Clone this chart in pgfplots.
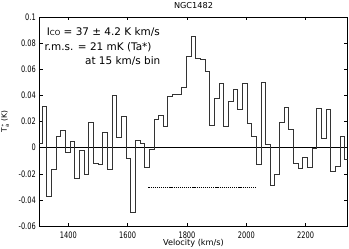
\documentclass[border=0pt]{standalone}
\usepackage{fontspec}
\setmainfont{DejaVu Sans}
\newfontfamily\tickfont{DejaVu Sans}[FakeStretch=0.74]
\usepackage{pgfplots}
\pgfplotsset{compat=1.18}

\begin{document}
\begin{tikzpicture}
\begin{axis}[
  name=ax,
  scale only axis,
  width=308.4bp, height=209bp,
  xmin=1302, xmax=2342,
  ymin=-0.06, ymax=0.1,
  xtick={1400,1600,1800,2000,2200},
  xticklabels={1400,1600,1800,2000,2200},
  ytick={-0.06,-0.04,-0.02,0,0.02,0.04,0.06,0.08,0.1},
  yticklabels={-0.06,-0.04,-0.02,0,0.02,0.04,0.06,0.08,0.1},
  scaled y ticks=false,
  tick align=inside,
  major tick length=3.3bp,
  tick style={black, line width=0.5pt},
  axis line style={black, line width=0.7pt},
  ticklabel style={font=\tickfont\fontsize{9}{9}\selectfont},
  xticklabel style={anchor=base, yshift=-12.3bp},
  yticklabel style={anchor=east, inner sep=0pt, xshift=-3.3bp},
  xlabel={Velocity (km/s)},
  xlabel style={font=\fontsize{8.2}{8.2}\selectfont, at={(axis description cs:0.5,-0.0933)}, anchor=base},
  ylabel={T$_{\mathrm{a}}^{*}$ (K)},
  ylabel style={font=\fontsize{7.5}{7.5}\selectfont, at={(axis description cs:-0.1112,0.5)}, anchor=center},
  title={NGC1482},
  title style={font=\fontsize{8.2}{8.2}\selectfont, at={(axis description cs:0.5,1.0119)}, anchor=base},
]
% zero line
\addplot[black, line width=0.4pt] coordinates {(1302,0) (2342,0)};
% dashed line
\addplot[black, line width=0.4pt, dash pattern=on 1.2pt off 0.9pt] coordinates {(1670,-0.03) (2032,-0.03)};
% spectrum
\addplot[const plot, black!80, line width=0.5pt] coordinates {
(1295.71,0.003)
(1311.40,0.0317)
(1327.09,-0.0373)
(1342.78,-0.0163)
(1358.47,0.0084)
(1374.16,0.013)
(1389.85,-0.0036)
(1405.54,0.0049)
(1421.23,-0.0238)
(1436.92,-0.002)
(1452.61,-0.0204)
(1468.30,0.0194)
(1483.99,-0.0117)
(1499.68,-0.013)
(1515.37,0.0117)
(1531.06,-0.0169)
(1546.75,0.040)
(1562.44,0.0077)
(1578.13,0.024)
(1593.82,-0.0082)
(1609.51,-0.0498)
(1625.20,0.0056)
(1640.89,0.003)
(1656.58,-0.0153)
(1672.27,-0.001)
(1687.96,0.0215)
(1703.65,0.0245)
(1719.34,0.0164)
(1735.03,0.0393)
(1750.72,0.0406)
(1766.41,0.0406)
(1782.10,0.0465)
(1797.79,0.070)
(1813.48,0.0853)
(1829.17,0.0687)
(1844.86,0.068)
(1860.55,0.0584)
(1876.24,0.017)
(1891.93,0.0375)
(1907.62,0.049)
(1923.31,0.0166)
(1939.00,0.0355)
(1954.69,0.045)
(1970.38,0.029)
(1986.07,0.0496)
(2001.76,0.019)
(2017.45,0.0087)
(2033.14,-0.013)
(2048.83,0.050)
(2064.52,0.0026)
(2080.21,-0.0289)
(2095.90,-0.0204)
(2111.59,0.0192)
(2127.28,0.0307)
(2142.97,0.0138)
(2158.66,-0.0123)
(2174.35,-0.0161)
(2190.04,-0.0077)
(2205.73,-0.0153)
(2221.42,-0.0008)
(2237.11,0.0305)
(2252.80,0.0074)
(2268.49,0.029)
(2284.18,-0.0179)
(2299.87,-0.0143)
(2315.56,0.0087)
(2331.25,-0.0092)
(2346.94,-0.0092)
};
\node[anchor=base west, inner sep=0pt, font=\fontsize{10.5}{10.5}\selectfont] at (axis cs:1327,0.086) {I{\fontsize{7}{7}\selectfont CO} = 37 ± 4.2 K km/s};
\node[anchor=base west, inner sep=0pt, font=\fontsize{10.5}{10.5}\selectfont] at (axis cs:1319,0.0745) {r.m.s. = 21 mK (Ta*)};
\node[anchor=base west, inner sep=0pt, font=\fontsize{10.5}{10.5}\selectfont] at (axis cs:1456,0.0638) {at 15 km/s bin};
\end{axis}
\pgfresetboundingbox
\path ([shift={(-39.3bp,-23bp)}]ax.south west) rectangle ([shift={(1.3bp,17bp)}]ax.north east);
\end{tikzpicture}
\end{document}
